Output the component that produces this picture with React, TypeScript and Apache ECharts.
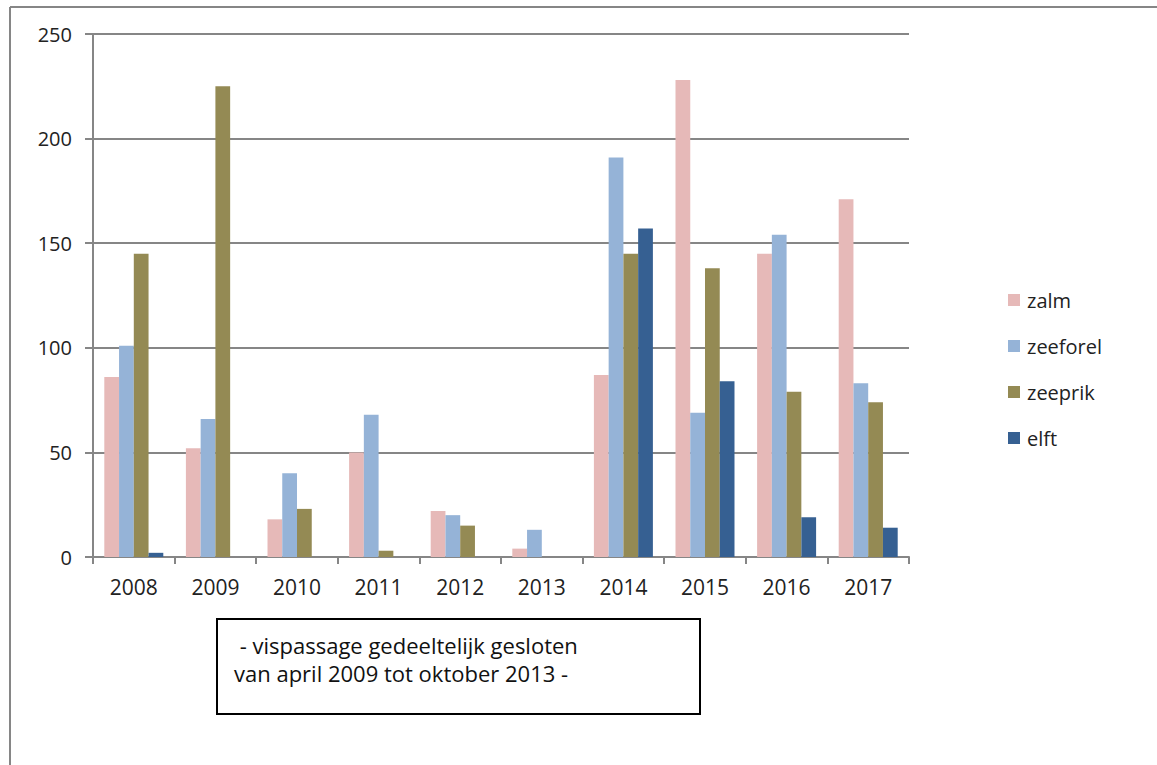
import React, { useEffect, useRef } from "react";
import * as echarts from "echarts";

const years = ["2008", "2009", "2010", "2011", "2012", "2013", "2014", "2015", "2016", "2017"];
const zalm = [86, 52, 18, 50, 22, 4, 87, 228, 145, 171];
const zeeforel = [101, 66, 40, 68, 20, 13, 191, 69, 154, 83];
const zeeprik = [145, 225, 23, 3, 15, 0, 145, 138, 79, 74];
const elft = [2, 0, 0, 0, 0, 0, 157, 84, 19, 14];

const seriesNames = ["zalm", "zeeforel", "zeeprik", "elft"];
const seriesColors = ["#E6B9B8", "#95B3D7", "#948A54", "#366092"];
const seriesData = [zalm, zeeforel, zeeprik, elft];

const noteLines = [" - vispassage gedeeltelijk gesloten", "van april 2009 tot oktober 2013 -"];

const FONT = "'Open Sans', 'Noto Sans', sans-serif";
const GREY = "#868686";

export default function App() {
  const ref = useRef<HTMLDivElement>(null);

  useEffect(() => {
    if (!ref.current) return;
    const chart = echarts.init(ref.current, undefined, { renderer: "svg" });
    chart.setOption({
      animation: false,
      backgroundColor: "#ffffff",
      textStyle: { fontFamily: FONT },
      grid: { left: 93, right: 248, top: 34, bottom: 208, containLabel: false },
      legend: {
        orient: "vertical",
        left: 1008,
        top: 290,
        padding: 0,
        itemWidth: 12,
        itemHeight: 12,
        itemGap: 26,
        icon: "rect",
        data: seriesNames,
        textStyle: { fontFamily: FONT, fontSize: 20, color: "#222", lineHeight: 20, padding: [0, 0, 0, 2] },
      },
      xAxis: {
        type: "category",
        data: years,
        axisLine: { lineStyle: { color: GREY, width: 2 } },
        axisTick: { show: true, length: 7, lineStyle: { color: GREY, width: 2 } },
        axisLabel: { color: "#222", fontSize: 21, fontFamily: FONT, margin: 19 },
      },
      yAxis: {
        type: "value",
        min: 0,
        max: 250,
        interval: 50,
        axisLine: { show: true, lineStyle: { color: GREY, width: 2 } },
        axisTick: { show: true, length: 8, lineStyle: { color: GREY, width: 2 } },
        splitLine: { show: true, lineStyle: { color: GREY, width: 2 } },
        axisLabel: { color: "#222", fontSize: 20, fontFamily: FONT, margin: 21 },
      },
      series: seriesNames.map((name, i) => ({
        name,
        type: "bar",
        data: seriesData[i],
        barGap: "0%",
        barCategoryGap: "27.7%",
        itemStyle: { color: seriesColors[i] },
      })),
      graphic: [
        {
          type: "line",
          shape: { x1: 10, y1: 7, x2: 1157, y2: 7 },
          style: { stroke: GREY, lineWidth: 2 },
        },
        {
          type: "line",
          shape: { x1: 10, y1: 7, x2: 10, y2: 765 },
          style: { stroke: GREY, lineWidth: 2 },
        },
        {
          type: "rect",
          shape: { x: 217, y: 619, width: 483, height: 95 },
          style: { fill: "#ffffff", stroke: "#000000", lineWidth: 2 },
        },
        {
          type: "text",
          x: 234,
          y: 645,
          style: { text: noteLines[0], fontFamily: FONT, fontSize: 22, fill: "#111", verticalAlign: "middle" },
        },
        {
          type: "text",
          x: 234,
          y: 673,
          style: { text: noteLines[1], fontFamily: FONT, fontSize: 22, fill: "#111", verticalAlign: "middle" },
        },
      ],
    });
    return () => chart.dispose();
  }, []);

  return (
    <div
      ref={ref}
      style={{ position: "fixed", left: 0, top: 0, width: 1157, height: 765, background: "#fff" }}
    />
  );
}
